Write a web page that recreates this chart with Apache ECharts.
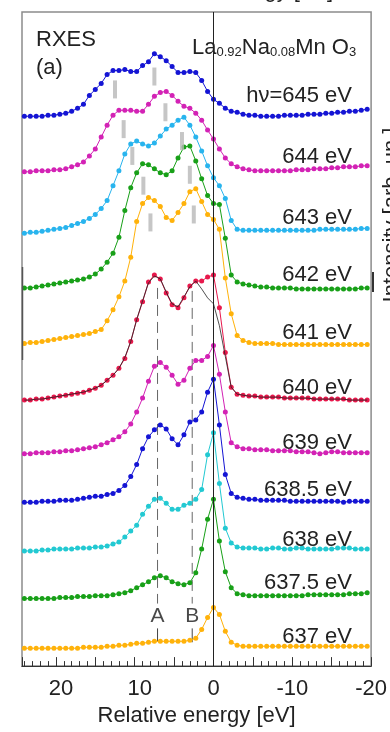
<!DOCTYPE html>
<html>
<head>
<meta charset="utf-8">
<script src="https://cdn.jsdelivr.net/npm/echarts@6/dist/echarts.min.js"></script>
<style>html,body{margin:0;padding:0;background:#fff}#c{width:390px;height:732px}</style>
</head>
<body>
<div id="c"></div>
<script>
// Relative energy grid [eV]
const energies = [24,23.25,22.5,21.75,21,20.25,19.5,18.75,18,17.25,16.5,15.75,15,14.25,13.5,12.75,12,11.25,10.5,9.75,9,8.25,7.5,6.75,6,5.25,4.5,3.75,3,2.25,1.5,0.75,0,-0.75,-1.5,-2.25,-3,-3.75,-4.5,-5.25,-6,-6.75,-7.5,-8.25,-9,-9.75,-10.5,-11.25,-12,-12.75,-13.5,-14.25,-15,-15.75,-16.5,-17.25,-18,-18.75,-19.5];

const spectrumLabels = ['hν=645 eV','644 eV','643 eV','642 eV','641 eV','640 eV','639 eV','638.5 eV','638 eV','637.5 eV','637 eV'];
// vertical offsets of each spectrum (arb. units)
const offsets = [554, 498, 436, 381, 325, 268, 214, 165, 116, 68, 18];

// intensities (arb. units) above each baseline
const s645 = [0,0,0,0,1,1,2,3,5,8,12,21,27,33,42,46,46,47,45,45,51,55,63,60,56,50,44,44,45,44,36,25,17,13,8,5,4,2,1,1,0, 0,0,0,1,1,1,1,2,2,2,3,3,4,4,5,5,6,7];
const s644 = [0,0,1,1,1,2,2,3,5,7,10,16,23,35,47,57,62,62,62,61,61,68,76,80,81,77,71,66,64,59,52,42,33,23,14,8,5,3,2,1,1, 1,1,1,1,1,2,2,2,3,3,3,4,4,5,5,5,6,6];
const s643 = [0,1,1,2,3,4,5,6,8,10,12,15,19,25,33,48,63,80,90,93,90,88,91,98,105,109,114,117,109,97,83,68,56,48,35,13,4,3,3,3,3, 3,3,3,3,3,3,3,3,3,4,4,4,4,4,4,4,5,5];
const s642 = [0,0,1,2,3,4,5,6,7,8,9,11,14,19,26,35,51,78,101,116,125,124,120,116,114,118,131,142,143,128,110,93,85,84,50,13,6,4,3,2,1, 1,0,0,0,0,-1,-1,-1,-1,-1,-1,-1,-1,-1,-1,-1,0,0];
const s641 = [0,1,1,2,3,4,5,6,7,8,9,10,12,14,23,34,47,63,87,123,141,147,144,138,127,124,132,141,153,156,143,130,125,115,66,30,8,3,1,0,0, 0,0,-1,-1,-1,-1,-1,-1,-1,-1,-1,-1,-1,-1,-1,-1,-1,-1];
const s640 = [0,0,1,1,2,3,4,5,6,7,8,10,12,15,20,25,32,42,59,81,99,119,126,122,108,96,93,103,115,120,120,124,126,93,48,13,6,5,4,4,3, 3,3,3,2,2,2,2,2,1,1,1,1,1,1,0,0,0,0];
const fit640 = [0,0,1,1,2,3,4,5,6,7,8,10,12,15,20,25,32,43,59,81,100,118,125,122,109,97,94,104,114,120,112,103,97,75,44,13,6,5,4,4,3, 3,3,3,2,2,2,2,2,1,1,1,1,1,1,0,0,0,0];
const s639 = [0,0,1,1,1,2,2,3,3,4,5,6,7,9,11,14,17,22,30,42,56,73,88,92,87,79,70,74,86,94,94,98,109,80,42,11,7,5,5,4,4, 4,3,3,3,3,2,2,2,1,0,1,2,2,1,1,1,1,1];
const s6385 = [0,0,0,1,1,1,2,2,2,3,4,5,6,6,8,9,12,17,26,38,54,66,73,78,74,64,58,68,81,83,91,111,124,78,28,9,5,4,3,3,2, 2,2,2,2,1,1,1,1,1,1,1,1,1,0,1,1,1,1];
const s638 = [0,0,0,1,1,2,2,2,2,3,3,3,4,4,5,7,9,14,20,26,37,45,52,53,48,42,42,46,48,52,62,97,119,68,23,8,4,3,3,3,2, 2,3,3,2,2,3,3,2,2,2,2,2,3,3,3,2,2,2];
const s6375 = [0,0,0,0,0,0,1,1,1,2,2,2,3,3,3,4,5,6,8,11,14,17,21,23,21,17,15,14,16,26,50,80,100,58,27,11,5,4,3,3,3, 3,3,3,3,3,3,3,4,4,4,4,4,4,4,5,5,5,6];
const s637 = [0,0,0,0,0,0,0,0,0,0,1,1,1,1,2,2,3,3,4,5,5,6,7,7,7,7,7,7,8,10,19,31,41,34,17,6,3,2,2,2,2, 2,2,2,2,2,2,2,2,2,2,2,2,2,2,2,2,2,2];

const spectra = [s645, s644, s643, s642, s641, s640, s639, s6385, s638, s6375, s637];
const colors = ['#1414d4','#d322b5','#28b4ee','#18a018','#ffb20a','#e8184c','#d322b5','#1414d4','#22c9d2','#18a018','#ffb20a'];

// feature positions A and B [eV] and grey peak markers [energy, level]
const peakA = 7.1, peakB = 2.7;
const greyMarks = [[12.5,581],[7.5,594],[11.4,541],[6.1,558],[10.3,514],[4.0,529],[8.9,484],[3.0,495],[8.0,447],[2.5,455]];

const FONT = '"Liberation Sans", Arial, Helvetica, sans-serif';
const chart = echarts.init(document.getElementById('c'), null, {renderer: 'canvas'});

const series = spectra.map((vals, s) => ({
  type: 'line',
  name: spectrumLabels[s],
  data: energies.map((e, k) => [e, offsets[s] + vals[k]]),
  symbol: 'circle',
  symbolSize: 5,
  showAllSymbol: true,
  lineStyle: {width: 1, color: colors[s]},
  itemStyle: {color: colors[s]},
  z: 2,
  silent: true
}));

series[0].markLine = {
  silent: true, symbol: 'none', animation: false,
  label: {show: false},
  lineStyle: {color: '#222', width: 1, type: 'solid'},
  data: [{xAxis: 0}]
};

series.push({
  type: 'line', name: 'fit',
  data: energies.map((e, k) => [e, offsets[5] + fit640[k]]),
  showSymbol: false,
  lineStyle: {width: 0.8, color: '#222'},
  z: 3, silent: true
});

series.push({
  type: 'scatter', name: 'marks',
  data: greyMarks,
  symbol: 'rect', symbolSize: [4, 18],
  itemStyle: {color: '#b8b8b8'},
  z: 4, silent: true
});

[peakA, peakB].forEach((p, j) => {
  series.push({
    type: 'line', data: [[p, j === 0 ? 381 : 378], [p, 63]],
    showSymbol: false,
    lineStyle: {color: '#666', width: 1, type: [11, 6]},
    z: 1, silent: true
  });
  series.push({
    type: 'line', data: [[p, 38], [p, j === 0 ? 25 : 24]],
    showSymbol: false,
    lineStyle: {color: '#444', width: 1},
    z: 1, silent: true
  });
  series.push({
    type: 'scatter', data: [[p, 50]], symbolSize: 1,
    itemStyle: {color: 'rgba(0,0,0,0)'},
    label: {show: true, position: 'inside', formatter: j === 0 ? 'A' : 'B',
      fontSize: 21, fontFamily: FONT, color: '#1a1a1a', textBorderWidth: 0},
    z: 5, silent: true
  });
});

const labelCenters = [96,157,218,275,333,388,443,490,540,583,637];
const graphics = spectrumLabels.map((t, s) => ({
  type: 'text', x: 352, y: labelCenters[s], z: 10, silent: true,
  style: {text: t, fontSize: 22, fontFamily: FONT, fill: '#222',
    align: 'right', textAlign: 'right', verticalAlign: 'middle', textVerticalAlign: 'middle'}
}));
graphics.push(
  {type: 'text', x: 36, y: 40, z: 10, silent: true,
   style: {text: 'RXES', fontSize: 22, fontFamily: FONT, fill: '#222', align: 'left', textAlign: 'left', verticalAlign: 'middle', textVerticalAlign: 'middle'}},
  {type: 'text', x: 36, y: 68, z: 10, silent: true,
   style: {text: '(a)', fontSize: 22, fontFamily: FONT, fill: '#222', align: 'left', textAlign: 'left', verticalAlign: 'middle', textVerticalAlign: 'middle'}},
  {type: 'text', x: 192, y: 47, z: 10, silent: true,
   style: {text: '{b|La}{s|0.92}{b|Na}{s|0.08}{b|Mn O}{s|3}', fill: '#222', align: 'left', textAlign: 'left', verticalAlign: 'middle', textVerticalAlign: 'middle',
     rich: {
       b: {fontSize: 22, fontFamily: FONT, fill: '#222', color: '#222', lineHeight: 24, verticalAlign: 'bottom'},
       s: {fontSize: 13, fontFamily: FONT, fill: '#222', color: '#222', lineHeight: 18, verticalAlign: 'bottom'}
     }}},
  {type: 'text', x: 392, y: 215, rotation: Math.PI / 2, z: 10, silent: true,
   style: {text: 'Intensity [arb. un.]', fontSize: 22, fontFamily: FONT, fill: '#222', align: 'center', textAlign: 'center', verticalAlign: 'middle', textVerticalAlign: 'middle'}},
  {type: 'text', x: 333, y: 2, z: 10, silent: true,
   style: {text: 'Emission energy [eV]', fontSize: 22, fontFamily: FONT, fill: '#222', align: 'right', textAlign: 'right', verticalAlign: 'bottom', textVerticalAlign: 'bottom'}},
  {type: 'line', z: 10, silent: true, shape: {x1: 22.5, y1: 267, x2: 22.5, y2: 360}, style: {stroke: '#555', lineWidth: 1.5}},
  {type: 'line', z: 10, silent: true, shape: {x1: 373, y1: 272, x2: 373, y2: 292}, style: {stroke: '#333', lineWidth: 2}}
);

const option = {
  animation: false,
  backgroundColor: '#fff',
  grid: {left: 22, right: 17, top: 12, bottom: 61, show: true, borderColor: '#8c8c8c', borderWidth: 1.5, backgroundColor: 'transparent'},
  xAxis: [
    {
      type: 'value', min: -20, max: 24.3, interval: 5, inverse: true,
      position: 'bottom',
      name: 'Relative energy [eV]', nameLocation: 'middle', nameGap: 36,
      nameTextStyle: {fontSize: 22, fontFamily: FONT, color: '#222'},
      axisLine: {show: true, onZero: false, lineStyle: {color: '#333', width: 1.2}},
      axisTick: {show: true, inside: true, length: 9, lineStyle: {color: '#333', width: 1}},
      splitLine: {show: false},
      axisLabel: {
        show: true, margin: 12, fontSize: 22, fontFamily: FONT, color: '#222',
        showMinLabel: true, showMaxLabel: true,
        formatter: v => (Math.abs(v % 10) < 1e-6 ? (v > 0 ? '{p|' + v + '}' : String(v)) : ''),
        rich: {p: {fontSize: 22, fontFamily: FONT, color: '#222', padding: [0, 0, 0, 10]}}
      }
    },
    {
      type: 'value', min: -20, max: 24.3, interval: 1, inverse: true,
      position: 'bottom',
      axisLine: {show: false},
      axisTick: {show: true, inside: true, length: 5, lineStyle: {color: '#333', width: 1}},
      axisLabel: {show: false},
      splitLine: {show: false}
    }
  ],
  yAxis: {
    type: 'value', min: 0, max: 659, show: false,
    splitLine: {show: false}
  },
  series: series,
  graphic: graphics
};
chart.setOption(option);
</script>
</body>
</html>
